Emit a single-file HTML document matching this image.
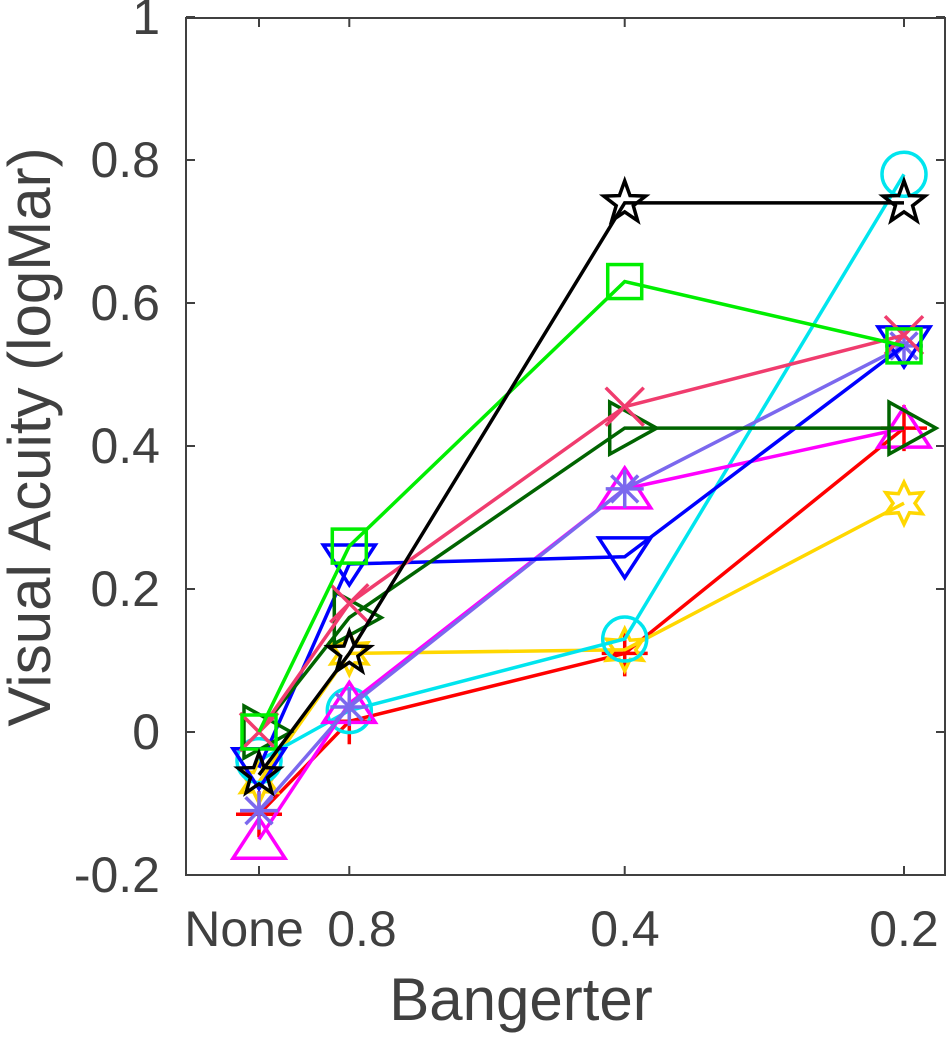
<!DOCTYPE html>
<html><head><meta charset="utf-8"><style>
html,body{margin:0;padding:0;background:#fff;}
svg text{font-family:"Liberation Sans",Arial,sans-serif;fill:#404040;}
</style></head><body>
<svg id="chart" width="950" height="1035" viewBox="0 0 950 1035" xmlns="http://www.w3.org/2000/svg">
<g id="axes"></g>
<g id="series"></g>
</svg>
<script>
const categories = ["None","0.8","0.4","0.2"];
const categoryPos = [0, 0.14, 0.567, 1.0]; // abstract x-units
const yTicks = [-0.2, 0, 0.2, 0.4, 0.6, 0.8, 1];
const yTickLabels = ["-0.2","0","0.2","0.4","0.6","0.8","1"];
const sBlackStar = [-0.06, 0.11, 0.74, 0.74];
const sGreenSquare = [0.0, 0.26, 0.63, 0.54];
const sPinkX = [0.0, 0.18, 0.455, 0.555];
const sDarkGreenTri = [0.0, 0.16, 0.425, 0.425];
const sBlueDown = [-0.05, 0.235, 0.245, 0.54];
const sMagentaUp = [-0.15, 0.04, 0.34, 0.425];
const sPurpleAst = [-0.11, 0.035, 0.34, 0.54];
const sRedPlus = [-0.115, 0.015, 0.11, 0.425];
const sCyanCircle = [-0.04, 0.03, 0.13, 0.78];
const sGoldHex = [-0.07, 0.11, 0.115, 0.32];

const L=186,R=945,T=18,B=875;
const xs = v => 259 + v*(904-259);
const ys = v => 732 - v*715;
const NS="http://www.w3.org/2000/svg";
function mk(tag, attrs, parent){const e=document.createElementNS(NS,tag);for(const k in attrs)e.setAttribute(k,attrs[k]);parent.appendChild(e);return e;}
const axes=document.getElementById('axes'), ser=document.getElementById('series');

const box=mk('rect',{x:L,y:T,width:R-L,height:B-T,fill:'none',stroke:'#404040','stroke-width':2},axes);


yTicks.forEach((t,i)=>{
  const y=ys(t);
  const a=mk('line',{x1:L,x2:L+9,y1:y,y2:y,stroke:'#404040','stroke-width':2},axes);
  
  
  const b=mk('line',{x1:R-9,x2:R,y1:y,y2:y,stroke:'#404040','stroke-width':2},axes);
  
  
  const tx=mk('text',{x:160,y:y+17,'text-anchor':'end','font-size':50},axes);
  tx.textContent=yTickLabels[i];
  
  
});
const labelX=[244,362,625,904];
categories.forEach((c,i)=>{
  const x=xs(categoryPos[i]);
  const a=mk('line',{x1:x,x2:x,y1:B,y2:B-9,stroke:'#404040','stroke-width':2},axes);
  
  
  const b=mk('line',{x1:x,x2:x,y1:T,y2:T+9,stroke:'#404040','stroke-width':2},axes);
  
  
  const tx=mk('text',{x:labelX[i],y:946,'text-anchor':'middle','font-size':50},axes);
  tx.textContent=c;
  
  
});
const xt=mk('text',{x:521,y:1020,'text-anchor':'middle','font-size':60},axes);
xt.textContent='Bangerter';


const yt=mk('text',{x:0,y:0,'text-anchor':'middle','font-size':60,transform:'translate(50,437) rotate(-90)'},axes);
yt.textContent='Visual Acuity (logMar)';



function star(x,y,n,ro,ri){let p=[];for(let i=0;i<2*n;i++){const r=i%2?ri:ro;const a=-Math.PI/2+i*Math.PI/n;p.push((x+r*Math.cos(a)).toFixed(1)+','+(y+r*Math.sin(a)).toFixed(1));}return p.join(' ');}
function marker(g,type,x,y,col){
  const s=19, sw=3.5;
  const st={fill:'none',stroke:col,'stroke-width':sw};
  if(type==='star') mk('polygon',Object.assign({points:star(x,y,5,22,9)},st),g);
  else if(type==='hex') mk('polygon',Object.assign({points:star(x,y,6,21,11)},st),g);
  else if(type==='square') mk('rect',Object.assign({x:x-s+2,y:y-s+2,width:2*s-4,height:2*s-4},st),g);
  else if(type==='circle') mk('circle',Object.assign({cx:x,cy:y,r:s+3},st),g);
  else if(type==='up') mk('polygon',Object.assign({points:`${x},${y-s-2} ${x+s+7},${y+s} ${x-s-7},${y+s}`},st),g);
  else if(type==='down') mk('polygon',Object.assign({points:`${x},${y+s+2} ${x+s+7},${y-s} ${x-s-7},${y-s}`},st),g);
  else if(type==='right') mk('polygon',Object.assign({points:`${x+s+13},${y} ${x-s+4},${y-s-7} ${x-s+4},${y+s+7}`},st),g);
  else if(type==='x'){mk('line',Object.assign({x1:x-s,y1:y-s,x2:x+s,y2:y+s},st),g);mk('line',Object.assign({x1:x-s,y1:y+s,x2:x+s,y2:y-s},st),g);}
  else if(type==='plus'){mk('line',Object.assign({x1:x-s-4,y1:y,x2:x+s+4,y2:y},st),g);mk('line',Object.assign({x1:x,y1:y-s-4,x2:x,y2:y+s+4},st),g);}
  else if(type==='ast'){for(let k=0;k<4;k++){const a=k*Math.PI/4;mk('line',Object.assign({x1:x-s*Math.cos(a),y1:y-s*Math.sin(a),x2:x+s*Math.cos(a),y2:y+s*Math.sin(a)},st),g);}}
}
const seriesList=[
 ['series-red-plus',sRedPlus,'#ff0000','plus'],
 ['series-gold-hexagram',sGoldHex,'#ffd700','hex'],
 ['series-cyan-circle',sCyanCircle,'#00e5ee','circle'],
 ['series-magenta-triangle',sMagentaUp,'#ff00ff','up'],
 ['series-purple-asterisk',sPurpleAst,'#7b68ee','ast'],
 ['series-blue-down-triangle',sBlueDown,'#0000ff','down'],
 ['series-darkgreen-right-triangle',sDarkGreenTri,'#006400','right'],
 ['series-pink-x',sPinkX,'#f03c6e','x'],
 ['series-green-square',sGreenSquare,'#00ee00','square'],
 ['series-black-star',sBlackStar,'#000000','star']
];
seriesList.forEach(([name,vals,col,type])=>{
  const g=mk('g',{},ser);
  
  
  const pts=vals.map((v,i)=>xs(categoryPos[i]).toFixed(1)+','+ys(v).toFixed(1)).join(' ');
  const pl=mk('polyline',{points:pts,fill:'none',stroke:col,'stroke-width':3.5},g);
  
  
  vals.forEach((v,i)=>marker(g,type,xs(categoryPos[i]),ys(v),col));
});
</script>
</body></html>
